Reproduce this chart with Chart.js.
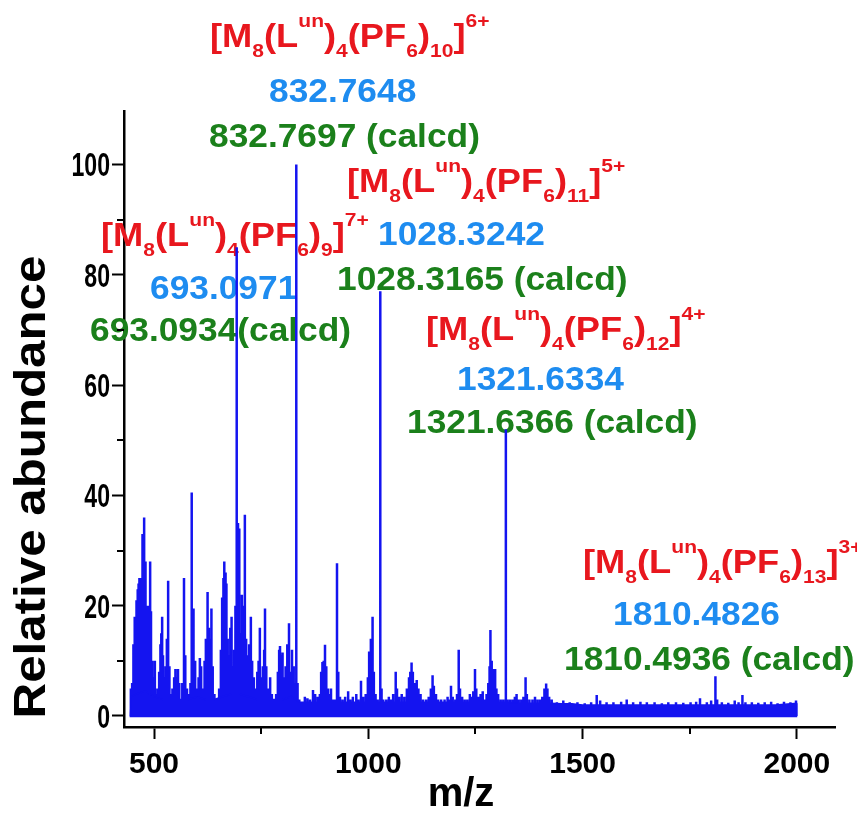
<!DOCTYPE html>
<html>
<head>
<meta charset="utf-8">
<script src="https://cdn.jsdelivr.net/npm/chart.js@4.4.1/dist/chart.umd.min.js"></script>
<style>
  html, body { margin: 0; padding: 0; background: #fff; }
  #wrap { width: 857px; height: 813px; }
</style>
</head>
<body>
<div id="wrap"><canvas id="ms" width="857" height="813"></canvas></div>
<script>
// peaks: m/z and relative abundance
const peakMz = [
  446, 449, 452, 455, 458, 460, 462, 464, 466, 468, 470, 472, 474, 477, 479, 481, 483, 485, 488, 491,
  493, 496, 499, 502, 505, 508, 512, 515, 517, 519, 521, 524, 527, 530, 533, 536, 539, 543, 547, 550,
  553, 556, 559, 563, 566, 570, 573, 577, 581, 585,
  588, 591, 593, 596, 600, 604, 607, 610, 614, 618, 621, 625, 628, 631, 634, 637, 641, 646, 652, 656,
  659, 662, 664, 667, 669, 672, 675, 678, 681, 684, 687, 690, 693, 696, 699, 702, 705, 709, 712, 715,
  718, 722, 726, 729, 733, 737, 741, 744, 747, 750, 754, 757, 759, 762, 766, 771, 775, 780, 785, 789,
  792, 794, 797, 800, 803, 807, 811, 815, 818, 822, 826, 829, 832, 835, 839,
  846, 852, 858, 864, 871, 876, 882, 887, 890, 893, 896, 899, 902, 906, 910, 913, 918, 923, 927, 930,
  934, 940, 946, 953, 958, 964, 972, 977, 983, 988, 994, 999, 1002, 1006, 1010, 1013, 1017, 1022, 1028, 1031,
  1035,
  1042, 1048, 1053, 1058, 1064, 1067, 1072, 1078, 1084, 1090, 1095, 1098, 1101, 1104, 1108, 1113, 1117, 1122, 1128, 1135,
  1141, 1146, 1150, 1153, 1158, 1163, 1170, 1178, 1185, 1189, 1193, 1197, 1203, 1207, 1211, 1214, 1219, 1225, 1231, 1237,
  1242, 1245, 1249, 1252, 1257, 1262, 1267, 1271, 1276, 1280, 1283, 1285, 1288, 1291, 1294, 1296, 1299, 1303, 1309, 1315,
  1321, 1325, 1331, 1337, 1342, 1346, 1351, 1357, 1362, 1367, 1370, 1376, 1383, 1389, 1395, 1401, 1406, 1411, 1415, 1418,
  1422, 1428,
  1440, 1455, 1470, 1488, 1505, 1520, 1533, 1541, 1556, 1572, 1590, 1603, 1618, 1635, 1650, 1668, 1685, 1700, 1718, 1735,
  1752, 1765, 1774, 1790, 1800, 1810, 1814, 1825, 1840, 1855, 1864, 1873, 1880, 1895, 1910, 1925, 1940, 1955, 1970, 1985,
  1998
];
const peakInt = [
  5, 6, 13, 18, 20, 21, 23, 24, 25, 25, 24, 30, 33, 36, 28, 22, 20, 18, 20, 28,
  19, 10, 7, 10, 4, 5, 8, 13, 15, 18, 11, 7, 9, 14, 24.5, 9, 4, 5, 7, 8.5,
  7, 8.5, 6, 3, 6, 25, 11, 5, 4, 6,
  40.5, 19.5, 18, 10, 5, 7, 10.5, 9, 5, 10, 14, 22.5, 16, 14, 19.5, 9, 4, 3, 5, 12,
  21.5, 25, 28, 26, 24, 14, 11, 16, 18, 9, 12, 20, 85, 35, 34, 15, 22, 20, 36.5, 14,
  11, 13, 18, 10, 7, 5, 8, 10, 16, 7, 9, 12, 19.5, 9, 5, 7, 4, 3, 4, 8,
  12, 12.7, 11, 11.5, 7, 9, 13, 16.8, 8, 12, 9, 6, 100, 6, 3,
  2.5, 3.5, 3.2, 3, 4.7, 4, 3.5, 4, 8, 9.8, 10, 12.9, 9, 5, 4, 5, 3, 3, 27.7, 8,
  3.5, 3, 3.5, 4.5, 3, 3.5, 4, 3, 6.4, 3.5, 4, 7, 11.7, 14, 18, 8, 4, 3, 77, 5,
  3,
  3, 3.5, 3, 4, 8, 5, 3.5, 4, 3.5, 5, 7, 8, 9.7, 8, 6, 6.5, 5, 4, 3, 3,
  3.5, 5, 7.4, 5.5, 4, 3, 3, 3, 3.5, 3, 5.5, 3.5, 3, 4, 12, 5, 3.5, 3, 3, 4,
  3.5, 4.5, 8.5, 5, 3.5, 4, 4.5, 3, 4, 6, 9, 15.6, 10, 8.5, 7, 8.5, 5, 4, 3, 3,
  52, 3, 3, 3, 3.5, 4, 3, 3, 3.5, 7, 4, 3, 3, 3.5, 3, 3, 3.5, 5, 5.9, 5,
  3.5, 3,
  2.5, 2.8, 2.5, 2.5, 2.3, 2.5, 3.8, 2.8, 2.5, 2.5, 2.6, 3, 2.5, 2.6, 2.5, 2.5, 2.3, 2.5, 2.5, 2.4,
  2.5, 2.6, 3.2, 2.5, 2.8, 7.2, 3, 2.5, 2.4, 2.8, 2.5, 3.8, 2.5, 2.5, 2.4, 2.5, 2.6, 2.3, 2.6, 2.5,
  2.8
];
// top of the dense noise floor under the peaks
const noiseMz = [
  445, 447, 460, 480, 500, 520, 540, 560, 580, 600, 620, 640, 660, 680, 700, 720, 740, 760, 780, 800,
  820, 840, 860, 880, 900, 925, 950, 975, 1000, 1025, 1050, 1075, 1100, 1125, 1150, 1175, 1200, 1225, 1250, 1275,
  1300, 1325, 1350, 1375, 1400, 1425, 1450, 1475, 1500, 1550, 1600, 1650, 1700, 1750, 1800, 1850, 1900, 1950, 1999, 2000
];
const noiseInt = [
  0, 3.5, 4, 4.5, 3.5, 3, 3, 3, 3, 3.5, 3, 3, 3.5, 4, 4, 3.5, 3, 3, 3, 3,
  3.5, 2.5, 2.5, 2.5, 2.5, 2.5, 2.5, 2.5, 2.5, 2.5, 2.5, 2.5, 2.5, 2.5, 2.5, 2.5, 2.5, 2.5, 2.5, 2.5,
  2.5, 2.5, 2.3, 2.3, 2.3, 2.3, 2.2, 2.2, 2, 2, 2, 2, 2, 2, 2, 2, 2, 2, 2.3, 0
];

const xTicks = [500, 750, 1000, 1250, 1500, 1750, 2000];
const xTickLabels = ['500', '', '1000', '', '1500', '', '2000'];
const yTicks = [0, 10, 20, 30, 40, 50, 60, 70, 80, 90, 100];
const yTickLabels = ['0', '', '20', '', '40', '', '60', '', '80', '', '100'];

// assigned ions
const ionPF6 = ['9', '10', '11', '12', '13'];
const ionCharge = ['7+', '6+', '5+', '4+', '3+'];
const observedText = ['693.0971', '832.7648', '1028.3242', '1321.6334', '1810.4826'];
const calcdText = ['693.0934(calcd)', '832.7697 (calcd)', '1028.3165 (calcd)', '1321.6366 (calcd)', '1810.4936 (calcd)'];

// where each label block sits (left x, baseline y of the three lines)
const labelPos = [
  { fx: 101, fy: 246, ox: 150, oy: 299, cx: 90, cy: 341 },
  { fx: 210, fy: 47, ox: 269, oy: 102, cx: 209, cy: 147 },
  { fx: 347, fy: 192, ox: 378, oy: 245, cx: 337, cy: 290 },
  { fx: 426, fy: 340, ox: 457, oy: 390, cx: 407, cy: 433 },
  { fx: 583, fy: 573, ox: 613, oy: 625, cx: 564, cy: 670 }
];

const SPEC_BLUE = '#1414f0';
const RED = '#e8171e';
const BLUE = '#1e8cf0';
const GREEN = '#1b801b';
const FONT = '"Liberation Sans", Arial, sans-serif';

const formulaParts = (pf6, charge) => [
  ['[M', 'n'], ['8', 'b'], ['(L', 'n'], ['un', 'p'], [')', 'n'], ['4', 'b'],
  ['(PF', 'n'], ['6', 'b'], [')', 'n'], [pf6, 'b'], [']', 'n'], [charge, 'p']
];

const drawRich = (ctx, parts, x, y, size, sx, color, align = 'left') => {
  ctx.save();
  ctx.translate(x, y);
  ctx.scale(sx, 1);
  ctx.fillStyle = color;
  ctx.textAlign = align;
  ctx.textBaseline = 'alphabetic';
  let cx = 0;
  parts.forEach(([txt, kind]) => {
    const s = kind === 'n' ? size : size * 0.58;
    const dy = kind === 'b' ? size * 0.3 : kind === 'p' ? -size * 0.6 : 0;
    ctx.font = `bold ${s}px ${FONT}`;
    ctx.fillText(txt, cx, dy);
    cx += ctx.measureText(txt).width;
  });
  ctx.restore();
};

const labelsPlugin = {
  id: 'ionLabels',
  beforeDatasetsDraw(chart) {
    const ctx = chart.ctx;
    labelPos.forEach((p, i) => {
      drawRich(ctx, formulaParts(ionPF6[i], ionCharge[i]), p.fx, p.fy, 33, 1.1, RED);
      drawRich(ctx, [[observedText[i], 'n']], p.ox, p.oy, 33, 1.07, BLUE);
      drawRich(ctx, [[calcdText[i], 'n']], p.cx, p.cy, 33, 1.07, GREEN);
    });
  },
  afterDraw(chart) {
    const { ctx, scales: { x, y }, chartArea } = chart;
    ctx.save();
    // minor ticks
    ctx.strokeStyle = '#000';
    ctx.lineWidth = 2;
    ctx.beginPath();
    xTicks.forEach((v, i) => {
      if (xTickLabels[i]) return;
      const px = Math.round(x.getPixelForValue(v));
      ctx.moveTo(px, chartArea.bottom);
      ctx.lineTo(px, chartArea.bottom + 7);
    });
    yTicks.forEach((v, i) => {
      if (yTickLabels[i]) return;
      const py = Math.round(y.getPixelForValue(v));
      ctx.moveTo(chartArea.left, py);
      ctx.lineTo(chartArea.left - 7, py);
    });
    ctx.stroke();
    // y tick labels, condensed like the original
    yTicks.forEach((v, i) => {
      if (!yTickLabels[i]) return;
      const py = y.getPixelForValue(v);
      drawRich(ctx, [[yTickLabels[i], 'n']], 110, py + 12, 33, 0.7, '#000', 'right');
    });
    // axis titles
    ctx.fillStyle = '#000';
    ctx.textAlign = 'center';
    ctx.textBaseline = 'alphabetic';
    ctx.font = `bold 40px ${FONT}`;
    ctx.fillText('m/z', 461, 806);
    ctx.translate(45, 487);
    ctx.rotate(-Math.PI / 2);
    ctx.scale(1.12, 1);
    ctx.font = `bold 44px ${FONT}`;
    ctx.fillText('Relative abundance', 0, 0);
    ctx.restore();
  }
};

const noisePoints = noiseMz.map((m, i) => ({ x: m, y: noiseInt[i] }));
const stickPoints = peakMz.flatMap((m, i) => [
  { x: m, y: 0 }, { x: m, y: peakInt[i] }, { x: m, y: 0 }
]);

new Chart(document.getElementById('ms'), {
  type: 'line',
  data: {
    datasets: [
      {
        data: noisePoints,
        borderColor: SPEC_BLUE,
        backgroundColor: SPEC_BLUE,
        borderWidth: 1.5,
        fill: 'origin',
        pointRadius: 0,
        tension: 0
      },
      {
        data: stickPoints,
        borderColor: SPEC_BLUE,
        borderWidth: 2.5,
        fill: false,
        pointRadius: 0,
        tension: 0
      }
    ]
  },
  options: {
    responsive: false,
    animation: false,
    layout: { padding: { top: 111, right: 22, left: 0, bottom: 0 } },
    plugins: { legend: { display: false }, tooltip: { enabled: false } },
    scales: {
      x: {
        type: 'linear',
        min: 430,
        max: 2089,
        afterBuildTicks: (scale) => { scale.ticks = xTicks.map(v => ({ value: v })); },
        afterFit: (scale) => { scale.height = 86; },
        ticks: {
          callback: (v, i) => xTickLabels[i],
          color: '#000',
          font: { family: FONT, size: 30, weight: 'bold' },
          padding: 8,
          maxRotation: 0,
          autoSkip: false
        },
        grid: {
          drawOnChartArea: false,
          drawTicks: true,
          tickLength: 12,
          tickWidth: 2,
          tickColor: (c) => (c.index % 2 === 0 ? '#000' : 'rgba(0,0,0,0)')
        },
        border: { display: true, color: '#000', width: 2.5 }
      },
      y: {
        type: 'linear',
        min: -2,
        max: 109.7,
        afterBuildTicks: (scale) => { scale.ticks = yTicks.map(v => ({ value: v })); },
        afterFit: (scale) => { scale.width = 124; },
        ticks: {
          // drawn condensed by the plugin above
          callback: (v, i) => yTickLabels[i],
          color: 'rgba(0,0,0,0)',
          font: { family: FONT, size: 30, weight: 'bold' },
          padding: 4,
          autoSkip: false
        },
        grid: {
          drawOnChartArea: false,
          drawTicks: true,
          tickLength: 12,
          tickWidth: 2,
          tickColor: (c) => (c.index % 2 === 0 ? '#000' : 'rgba(0,0,0,0)')
        },
        border: { display: true, color: '#000', width: 2.5 }
      }
    }
  },
  plugins: [labelsPlugin]
});
</script>
</body>
</html>
